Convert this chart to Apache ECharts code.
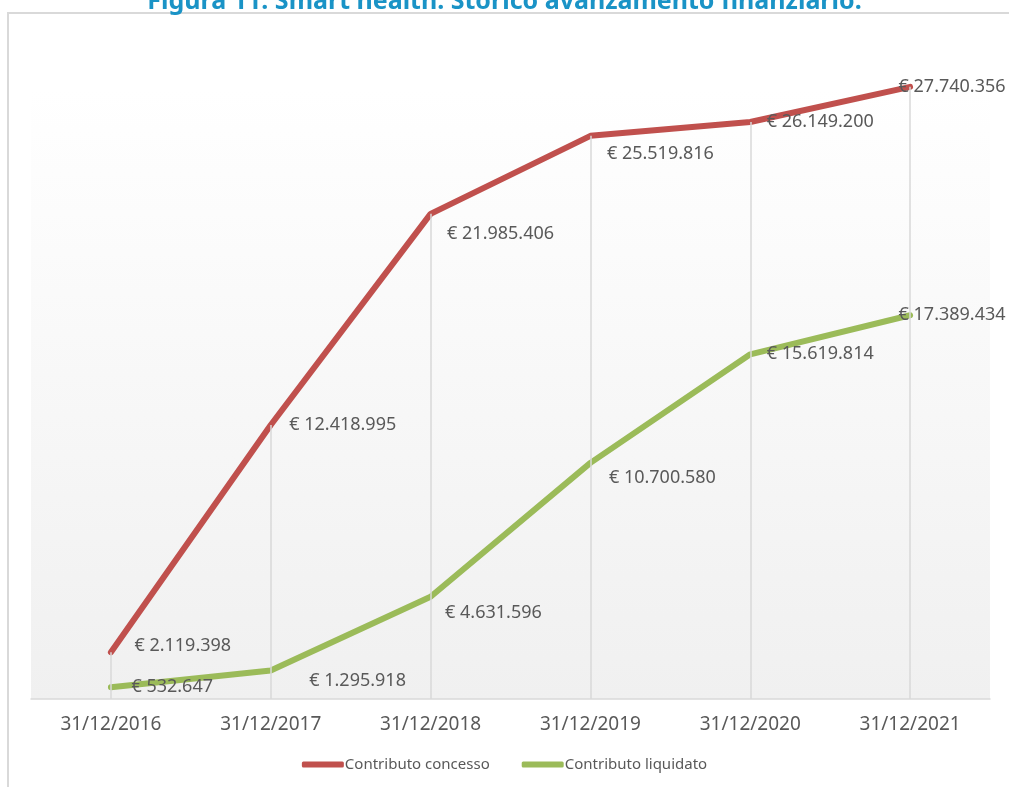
<!DOCTYPE html>
<html>
<head>
<meta charset="utf-8">
<script src="https://cdn.jsdelivr.net/npm/echarts@6/dist/echarts.min.js"></script>
<style>
html,body{margin:0;padding:0;background:#fff;}
#chart{width:1009px;height:787px;}
</style>
</head>
<body>
<div id="chart"></div>
<script>
const titleText = 'Figura 11. Smart health. Storico avanzamento finanziario.';
const categories = ['31/12/2016','31/12/2017','31/12/2018','31/12/2019','31/12/2020','31/12/2021'];
const seriesNames = ['Contributo concesso','Contributo liquidato'];
const concesso = [2119398, 12418995, 21985406, 25519816, 26149200, 27740356];
const liquidato = [532647, 1295918, 4631596, 10700580, 15619814, 17389434];

// label offsets (style only)
const concessoOffsets = [[5,-6],[0,0],[-2,20],[-2,18],[-2,0],[-30,0]];
const liquidatoOffsets = [[2,0],[20,10],[-4,16],[0,15],[-2,0],[-30,0]];

function fmt(v){
  return '€ ' + String(v).replace(/\B(?=(\d{3})+(?!\d))/g, '.');
}
const FONT = 'Noto Sans';
const chart = echarts.init(document.getElementById('chart'), null, {renderer:'canvas'});

function mkData(arr, offs){
  return arr.map((v,i)=>({value:v, label:{offset:offs[i]}}));
}

chart.setOption({
  animation:false,
  backgroundColor:'#ffffff',
  title:{
    text:titleText, left:'center', top:-16,
    textStyle:{color:'#1a93c6', fontFamily:FONT, fontWeight:'bold', fontSize:25}
  },
  graphic:[
    {type:'polyline', shape:{points:[[8,787],[8,13],[1009,13]]}, style:{stroke:'#d9d9d9', lineWidth:2, fill:null}, z:-1}
  ],
  grid:{
    left:31, right:19, top:37, bottom:88, show:true, borderWidth:0,
    backgroundColor:{type:'linear', x:0, y:0, x2:0, y2:1, colorStops:[
      {offset:0, color:'#ffffff'},{offset:0.08, color:'#ffffff'},{offset:1, color:'#f0f0f0'}]}
  },
  legend:{
    bottom:10, left:'center', itemGap:32, itemWidth:42, itemHeight:6,
    icon:'roundRect',
    textStyle:{color:'#595959', fontFamily:FONT, fontSize:15, padding:[0,0,0,-4]},
    data:seriesNames
  },
  xAxis:{
    type:'category', data:categories, boundaryGap:true,
    axisLine:{show:true, lineStyle:{color:'#d9d9d9', width:1.5}},
    axisTick:{show:false},
    axisLabel:{color:'#595959', fontFamily:FONT, fontSize:19, margin:16},
    splitLine:{show:false}
  },
  yAxis:{
    type:'value', min:0, max:30000000,
    show:false, splitLine:{show:false}
  },
  series:[
    {
      name:seriesNames[0], type:'line', data:mkData(concesso, concessoOffsets),
      symbol:'circle', symbolSize:1, showSymbol:true,
      lineStyle:{color:'#c0504d', width:6, cap:'round', join:'round'},
      itemStyle:{color:'#c0504d'},
      label:{show:true, position:'right', distance:18, color:'#595959', fontFamily:FONT, fontSize:18,
        formatter:p=>fmt(p.value)},
      markLine:{
        silent:true, symbol:'none', label:{show:false},
        lineStyle:{color:'#d9d9d9', width:1.5, type:'solid'},
        data:concesso.map((v,i)=>[{coord:[i,0]},{coord:[i,v]}])
      },
      z:3
    },
    {
      name:seriesNames[1], type:'line', data:mkData(liquidato, liquidatoOffsets),
      symbol:'circle', symbolSize:1, showSymbol:true,
      lineStyle:{color:'#9bbb59', width:6, cap:'round', join:'round'},
      itemStyle:{color:'#9bbb59'},
      label:{show:true, position:'right', distance:18, color:'#595959', fontFamily:FONT, fontSize:18,
        formatter:p=>fmt(p.value)},
      z:4
    }
  ]
});
</script>
</body>
</html>
